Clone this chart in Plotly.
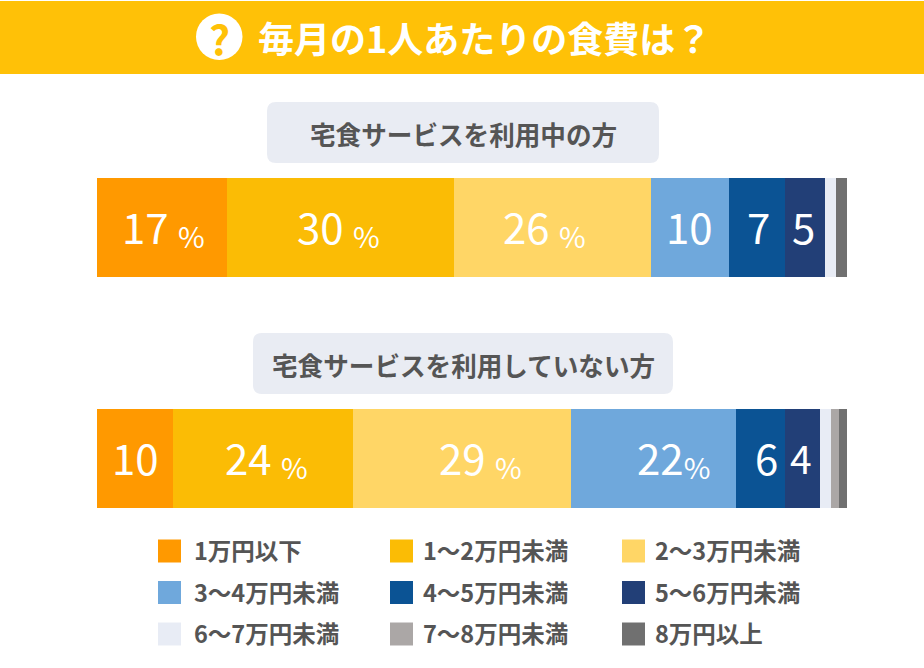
import plotly.graph_objects as go

W = 924
H = 668

title = "毎月の1人あたりの食費は？"
groups = ["宅食サービスを利用中の方", "宅食サービスを利用していない方"]
legend_names = ["1万円以下", "1〜2万円未満", "2〜3万円未満",
                "3〜4万円未満", "4〜5万円未満", "5〜6万円未満",
                "6〜7万円未満", "7〜8万円未満", "8万円以上"]
colors = ["#FF9900", "#FBBC05", "#FFD666", "#6FA8DC", "#0B5394",
          "#223F77", "#E8ECF5", "#ABA7A6", "#707070"]

# share of each bracket
using = [17.3, 30.3, 26.3, 10.4, 7.4, 5.3, 1.5, 0, 1.5]
not_using = [10.1, 24.0, 29.1, 22.0, 6.5, 4.7, 1.4, 1.1, 1.1]

using_labels = ["17 %", "30 %", "26 %", "10", "7", "5"]
not_using_labels = ["10", "24 %", "29 %", "22%", "6", "4"]

# the labels in the original are not quite centred in their segment (px)
using_nudge = [2, -2, -8, -1, 1, -1]
not_using_nudge = [1, 4, 19, 20, 6, -1]
not_using_sizes = [42, 42, 42, 42, 42, 39]


def px_x(v):
    return v / W


def px_y(v):
    return 1 - v / H


def rounded_box(x0, y0, x1, y1, r, color):
    p = (f"M {px_x(x0 + r)} {px_y(y0)} L {px_x(x1 - r)} {px_y(y0)} "
         f"Q {px_x(x1)} {px_y(y0)} {px_x(x1)} {px_y(y0 + r)} "
         f"L {px_x(x1)} {px_y(y1 - r)} "
         f"Q {px_x(x1)} {px_y(y1)} {px_x(x1 - r)} {px_y(y1)} "
         f"L {px_x(x0 + r)} {px_y(y1)} "
         f"Q {px_x(x0)} {px_y(y1)} {px_x(x0)} {px_y(y1 - r)} "
         f"L {px_x(x0)} {px_y(y0 + r)} "
         f"Q {px_x(x0)} {px_y(y0)} {px_x(x0 + r)} {px_y(y0)} Z")
    return dict(type="path", xref="paper", yref="paper", path=p,
                fillcolor=color, line=dict(width=0), layer="below")


def page_text(x, y, text, size, color, weight=700, anchor="center"):
    return dict(xref="paper", yref="paper", x=px_x(x), y=px_y(y), text=text,
                showarrow=False, xanchor=anchor, yanchor="middle",
                font=dict(family="Noto Sans CJK JP", size=size, color=color, weight=weight))


fig = go.Figure()
for i, name in enumerate(legend_names):
    fig.add_trace(go.Bar(
        y=groups, x=[using[i], not_using[i]], name=name, orientation="h",
        marker=dict(color=colors[i], line=dict(width=0)),
        hoverinfo="name+x", showlegend=False,
    ))

shapes = [
    dict(type="rect", xref="paper", yref="paper", x0=0, x1=1, y0=px_y(74), y1=px_y(1),
         fillcolor="#FFC107", line=dict(width=0), layer="below"),
    dict(type="circle", xref="paper", yref="paper", x0=px_x(196), x1=px_x(242.5),
         y0=px_y(60), y1=px_y(13.5), fillcolor="white", line=dict(width=0)),
    rounded_box(267, 102, 659, 163, 9, "#E9ECF3"),
    rounded_box(253, 333, 673, 394, 9, "#E9ECF3"),
]

annotations = [
    page_text(219.5, 37, "?", 41, "#FFC107", 700),
    page_text(484.5, 37, title, 36, "white"),
    page_text(463.5, 133, groups[0], 25.6, "#555555"),
    page_text(463.5, 364, groups[1], 25.6, "#555555"),
]

# value labels, placed from the running total of each bar
for group, values, labels, nudges, sizes in [
    (groups[0], using, using_labels, using_nudge, [42] * 6),
    (groups[1], not_using, not_using_labels, not_using_nudge, not_using_sizes),
]:
    total = 0
    for value, label, nudge, size in zip(values, labels, nudges, sizes):
        text = label.replace("%", '<span style="font-size:29px;baseline-shift:-4px">%</span>')
        annotations.append(dict(
            x=total + value / 2, y=group, xref="x", yref="y", text=text,
            xshift=nudge, yshift=2, showarrow=False,
            font=dict(family="Noto Sans CJK JP", size=size, color="white"),
        ))
        total += value

# legend drawn by hand: the swatches are bigger than a plotly legend allows
col_swatch = [158, 390, 622]
col_text = [192, 421, 653]
row_mid = [551, 592.5, 634]
for i, name in enumerate(legend_names):
    r, c = divmod(i, 3)
    shapes.append(dict(type="rect", xref="paper", yref="paper",
                       x0=px_x(col_swatch[c]), x1=px_x(col_swatch[c] + 23),
                       y0=px_y(row_mid[r] + 11.5), y1=px_y(row_mid[r] - 11.5),
                       fillcolor=colors[i], line=dict(width=0)))
    annotations.append(page_text(col_text[c], row_mid[r] - 1, name, 23.5, "#555555", 700, "left"))

fig.update_layout(
    width=W, height=H, margin=dict(l=0, r=0, t=0, b=0, pad=0), autosize=False,
    barmode="stack", bargap=1 - 99 / 231,
    paper_bgcolor="white", plot_bgcolor="white",
    shapes=shapes, annotations=annotations,
    xaxis=dict(domain=[px_x(97), px_x(847)], range=[0, 100], visible=False),
    yaxis=dict(domain=[px_y(574), px_y(112)], type="category", categoryorder="array",
               categoryarray=groups, range=[1.5, -0.5], visible=False),
)

fig.write_html("out.html", config=dict(displayModeBar=False),
               post_script="document.body.style.margin='0';document.body.style.overflow='hidden';")
